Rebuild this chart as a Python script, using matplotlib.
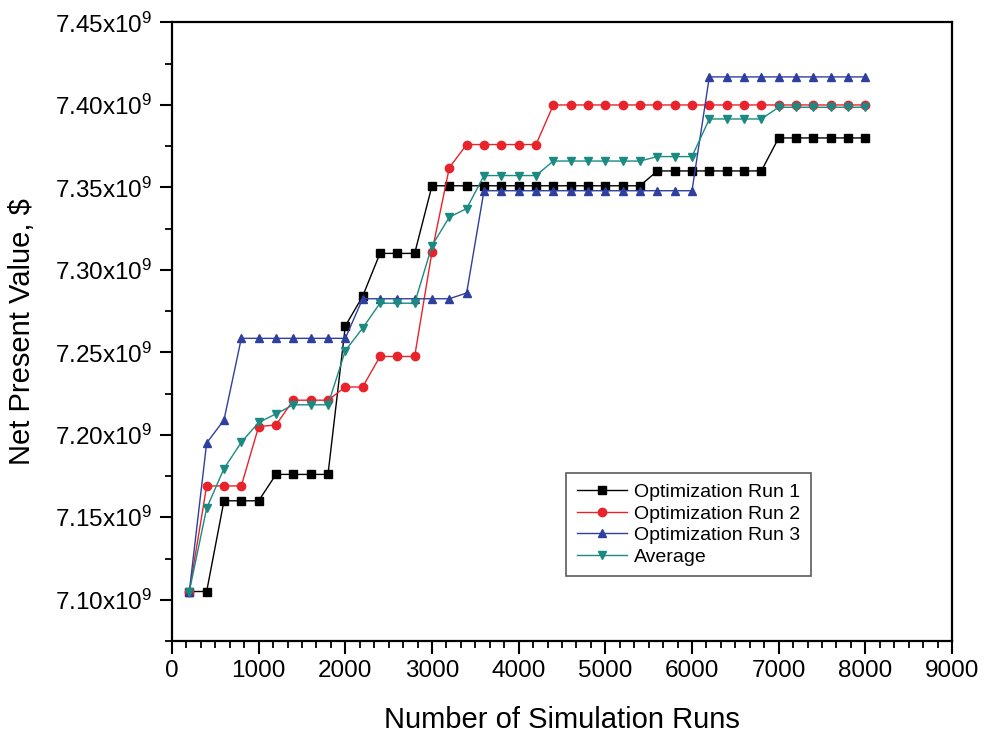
import matplotlib
matplotlib.use("Agg")
import matplotlib.pyplot as plt
from matplotlib.ticker import MultipleLocator, FuncFormatter, AutoMinorLocator

plt.rcParams['font.family'] = ['Liberation Sans', 'DejaVu Sans']
plt.rcParams['mathtext.fontset'] = 'custom'
plt.rcParams['mathtext.rm'] = 'Liberation Sans'
plt.rcParams['mathtext.it'] = 'Liberation Sans:italic'

runs = list(range(200, 8001, 200))

run1 = [7.105, 7.105, 7.160, 7.160, 7.160, 7.176, 7.176, 7.176, 7.176, 7.266,
        7.284, 7.310, 7.310, 7.310, 7.351, 7.351, 7.351, 7.351, 7.351, 7.351,
        7.351, 7.351, 7.351, 7.351, 7.351, 7.351, 7.351, 7.360, 7.360, 7.360,
        7.360, 7.360, 7.360, 7.360, 7.380, 7.380, 7.380, 7.380, 7.380, 7.380]
run2 = [7.105, 7.169, 7.169, 7.169, 7.205, 7.206, 7.221, 7.221, 7.221, 7.229,
        7.229, 7.2475, 7.2475, 7.2475, 7.311, 7.362, 7.376, 7.376, 7.376, 7.376,
        7.376, 7.400, 7.400, 7.400, 7.400, 7.400, 7.400, 7.400, 7.400, 7.400,
        7.400, 7.400, 7.400, 7.400, 7.400, 7.400, 7.400, 7.400, 7.400, 7.400]
run3 = [7.105, 7.195, 7.209, 7.2585, 7.2585, 7.2585, 7.2585, 7.2585, 7.2585, 7.2585,
        7.2825, 7.2825, 7.2825, 7.2825, 7.2825, 7.2825, 7.286, 7.348, 7.348, 7.348,
        7.348, 7.348, 7.348, 7.348, 7.348, 7.348, 7.348, 7.348, 7.348, 7.348,
        7.417, 7.417, 7.417, 7.417, 7.417, 7.417, 7.417, 7.417, 7.417, 7.417]
average = [7.105, 7.1555, 7.1795, 7.1955, 7.2075, 7.2127, 7.2182, 7.2182, 7.2182, 7.251,
           7.2647, 7.2798, 7.2798, 7.2798, 7.3147, 7.332, 7.3372, 7.3572, 7.3572, 7.3572,
           7.3572, 7.366, 7.366, 7.366, 7.366, 7.366, 7.366, 7.3687, 7.3687, 7.3687,
           7.3915, 7.3915, 7.3915, 7.3915, 7.3986, 7.3986, 7.3986, 7.3986, 7.3986, 7.3986]

series = [
    ("Optimization Run 1", run1, "#000000", "s"),
    ("Optimization Run 2", run2, "#e8232b", "o"),
    ("Optimization Run 3", run3, "#2f3f9e", "^"),
    ("Average", average, "#1a8a82", "v"),
]

fig = plt.figure(figsize=(9.85, 7.40), dpi=100)
ax = fig.add_axes([0.1746, 0.1338, 0.7919, 0.8358])

for label, vals, color, marker in series:
    ax.plot(runs, [v * 1e9 for v in vals], color=color, marker=marker,
            markersize=6, linewidth=1.0, label=label)

ax.set_xlim(0, 9000)
ax.set_ylim(7.075e9, 7.45e9)
ax.xaxis.set_major_locator(MultipleLocator(1000))
ax.xaxis.set_minor_locator(AutoMinorLocator(6))
ax.yaxis.set_major_locator(MultipleLocator(0.05e9))
ax.yaxis.set_minor_locator(MultipleLocator(0.025e9))
ax.yaxis.set_major_formatter(FuncFormatter(lambda v, p: r"%.2fx10$^{9}$" % (v / 1e9)))

for s in ax.spines.values():
    s.set_linewidth(1.6)
ax.tick_params(which='major', direction='out', length=9, width=1.5, labelsize=17.5,
               top=False, right=False, pad=5)
ax.tick_params(which='minor', direction='out', length=5, width=1.3,
               top=False, right=False)

ax.set_xlabel("Number of Simulation Runs", fontsize=21, labelpad=17)
ax.set_ylabel("Net Present Value, $", fontsize=21, labelpad=14)

leg = ax.legend(loc='upper left', bbox_to_anchor=(0.505, 0.272), borderaxespad=0,
                fontsize=14, frameon=True, fancybox=False, edgecolor='#333333',
                handlelength=2.6, handletextpad=0.35, labelspacing=0.2,
                borderpad=0.55)
leg.get_frame().set_linewidth(1.2)

fig.savefig("out.png", dpi=100)
